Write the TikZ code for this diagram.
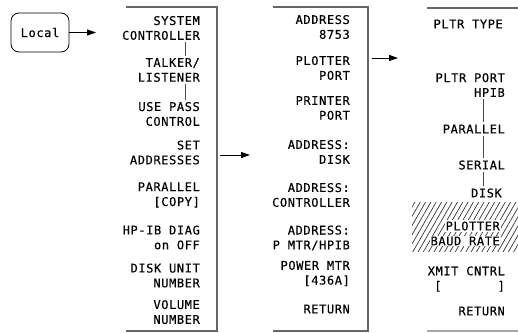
\documentclass[tikz,border=0pt]{standalone}
\usepackage{fontspec}
\newfontfamily\hpfont[LetterSpace=5,FakeBold=0.35]{DejaVu Sans Mono}
\usetikzlibrary{arrows.meta,patterns.meta}
\begin{document}
\begin{tikzpicture}[x=1pt,y=-1pt,
  lbl/.style={font=\hpfont\fontsize{12}{14.8}\selectfont, align=right, inner sep=1pt, anchor=east},
  frame/.style={draw=black!60, line width=1.2pt},
  conn/.style={draw=black!70, line width=0.9pt, shorten >=1pt, shorten <=1pt},
  arr/.style={draw=black, line width=0.9pt, -{Triangle[length=9pt,width=6pt]}},
  wbox/.style={lbl, fill=white}]
\useasboundingbox (0,0) rectangle (518,332);

% Local key
\node[draw=black, line width=0.8pt, rounded corners=8pt, minimum width=58pt,
      minimum height=39pt, inner sep=1pt, font=\hpfont\fontsize{12}{14.8}\selectfont] (local) at (40,32.5) {Local};
\coordinate (a1) at (96,32.5);
\draw[arr] (local.east) -- (a1);

% column frames
\draw[frame] (126,7) -- (217,7) -- (217,331) -- (126,331);
\draw[frame] (273,7) -- (368,7) -- (368,331) -- (273,331);
\draw[frame] (427,8) -- (518,8);
\draw[frame, draw=black!35] (427,331) -- (518,331);

% hatched area
\path[pattern={Lines[angle=60,distance=4.6pt,line width=0.7pt]}, pattern color=black!80]
  (412,202) rectangle (518,251);

% column 1
\coordinate (c1) at (185,0);
\node[lbl] (sc) at (201,28) {SYSTEM\\CONTROLLER};
\node[lbl] (tl) at (201,70) {TALKER/\\LISTENER};
\node[lbl] (up) at (201,114) {USE PASS\\CONTROL};
\node[lbl] (sa) at (201,152.5) {SET\\ADDRESSES};
\node[lbl] (pc) at (201,195) {PARALLEL\\{[COPY]}};
\node[lbl] (hd) at (201,237.5) {HP-IB DIAG\\on OFF};
\node[lbl] (du) at (201,275.5) {DISK UNIT\\NUMBER};
\node[lbl] (vn) at (201,312) {VOLUME\\NUMBER};
\draw[conn] (sc.south -| c1) -- (tl.north -| c1);
\draw[conn] (tl.south -| c1) -- (up.north -| c1);

\coordinate (a2s) at (220,155);
\coordinate (a2e) at (250,155);
\draw[arr] (a2s) -- (a2e);

% column 2
\node[lbl] (ad) at (351,27) {ADDRESS\\8753};
\node[lbl] (pp) at (351,68) {PLOTTER\\PORT};
\node[lbl] (rp) at (351,108) {PRINTER\\PORT};
\node[lbl] (dk) at (351,152) {ADDRESS:\\DISK};
\node[lbl] (ac) at (351,195) {ADDRESS:\\CONTROLLER};
\node[lbl] (am) at (351,238) {ADDRESS:\\P MTR/HPIB};
\node[lbl] (pm) at (351,273.5) {POWER MTR\\{[436A]}};
\node[lbl] (r2) at (351,309) {RETURN};

\coordinate (a3s) at (372,58);
\coordinate (a3e) at (398,58);
\draw[arr] (a3s) -- (a3e);

% column 3
\coordinate (c3) at (483,0);
\node[lbl] (pt) at (504,24) {PLTR TYPE};
\node[lbl] (ph) at (506,85) {PLTR PORT\\HPIB};
\node[lbl] (pa) at (506,129) {PARALLEL};
\node[lbl] (se) at (506,165) {SERIAL};
\node[lbl] (di) at (503,193) {DISK};
\draw[conn] (ph.south -| c3) -- (pa.north -| c3);
\draw[conn] (pa.south -| c3) -- (se.north -| c3);
\draw[conn] (se.south -| c3) -- (di.north -| c3);
\node[wbox] (pl) at (501,226) {PLOTTER};
\node[wbox] (br) at (501,241) {BAUD RATE};
\node[lbl] (xc) at (506,279) {XMIT CNTRL\\{[}\hspace*{56pt}{]}};
\node[lbl] (r3) at (506,311) {RETURN};
\end{tikzpicture}
\end{document}
